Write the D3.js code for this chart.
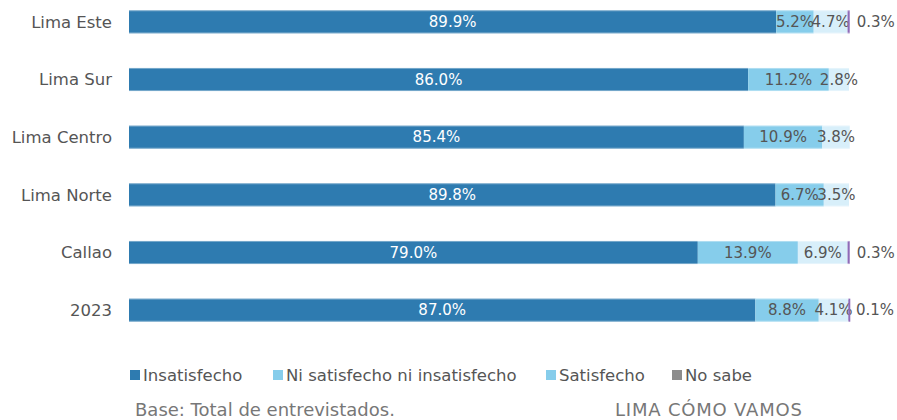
<!DOCTYPE html>
<html>
<head>
<meta charset="utf-8">
<script src="https://cdn.jsdelivr.net/npm/d3@7"></script>
<style>
  body { margin: 0; background: #fff; }
  svg text { font-family: "DejaVu Sans", "Noto Sans", sans-serif; }
</style>
</head>
<body>
<div id="chart"></div>
<script>
var categories = ["Lima Este", "Lima Sur", "Lima Centro", "Lima Norte", "Callao", "2023"];
var series = ["Insatisfecho", "Ni satisfecho ni insatisfecho", "Satisfecho", "No sabe"];
var insatisfecho = [89.9, 86.0, 85.4, 89.8, 79.0, 87.0];
var niSatisfecho = [5.2, 11.2, 10.9, 6.7, 13.9, 8.8];
var satisfecho = [4.7, 2.8, 3.8, 3.5, 6.9, 4.1];
var noSabe = [0.3, 0, 0, 0, 0.3, 0.1];

var barColors = ["#2e7bb0", "#86cdeb", "#d8effa", "#8e6bb8"];
var legendColors = ["#2e7bb0", "#86cdeb", "#86cdeb", "#8c8c8c"];

var width = 897, height = 420;
var margin = {top: 0, left: 129, right: 48};

var rows = categories.map(function(c, i) {
  return {name: c, values: [insatisfecho[i], niSatisfecho[i], satisfecho[i], noSabe[i]]};
});

var svg = d3.select("#chart").append("svg")
  .attr("width", width)
  .attr("height", height);

var x = d3.scaleLinear()
  .domain([0, 100])
  .range([margin.left, width - margin.right]);

var y = d3.scaleBand()
  .domain(categories)
  .range([-7, 339])
  .paddingInner(0.6)
  .paddingOuter(0.3);

// category labels
svg.selectAll("text.cat").data(categories)
  .enter().append("text")
  .attr("class", "cat")
  .attr("x", 112)
  .attr("y", function(d) { return y(d) + y.bandwidth() / 2; })
  .attr("dy", "0.35em")
  .attr("text-anchor", "end")
  .attr("font-size", 16.5)
  .attr("fill", "#555")
  .text(function(d) { return d; });

rows.forEach(function(row) {
  var start = 0;
  var g = svg.append("g");
  row.values.forEach(function(v, k) {
    if (v <= 0) { start += v; return; }
    var x0 = x(start), x1 = x(start + v);
    g.append("rect")
      .attr("x", x0)
      .attr("y", y(row.name))
      .attr("width", Math.max(x1 - x0, 2))
      .attr("height", y.bandwidth())
      .attr("fill", barColors[k]);
    var lx = (x0 + x1) / 2, anchor = "middle";
    if (k === 3) { lx = x1 + 7; anchor = "start"; }
    g.append("text")
      .attr("x", lx)
      .attr("y", y(row.name) + y.bandwidth() / 2)
      .attr("dy", "0.35em")
      .attr("text-anchor", anchor)
      .attr("font-size", 15)
      .attr("fill", k === 0 ? "#fff" : "#555")
      .text(v.toFixed(1) + "%");
    start += v;
  });
  // thin light edges at top and bottom of the bar
  g.append("line")
    .attr("x1", x(0)).attr("x2", x(start))
    .attr("y1", y(row.name) + 0.5).attr("y2", y(row.name) + 0.5)
    .attr("stroke", "#fff").attr("stroke-opacity", 0.35);
  g.append("line")
    .attr("x1", x(0)).attr("x2", x(start))
    .attr("y1", y(row.name) + y.bandwidth() - 0.5).attr("y2", y(row.name) + y.bandwidth() - 0.5)
    .attr("stroke", "#fff").attr("stroke-opacity", 0.35);
});

// legend
var legendX = [130, 273, 546, 672];
var legend = svg.append("g");
series.forEach(function(s, i) {
  legend.append("rect")
    .attr("x", legendX[i])
    .attr("y", 370)
    .attr("width", 10)
    .attr("height", 10)
    .attr("fill", legendColors[i]);
  legend.append("text")
    .attr("x", legendX[i] + 13)
    .attr("y", 375)
    .attr("dy", "0.35em")
    .attr("font-size", 16.5)
    .attr("fill", "#555")
    .text(s);
});

svg.append("text")
  .attr("x", 135).attr("y", 416)
  .attr("font-size", 18).attr("fill", "#777")
  .text("Base: Total de entrevistados.");

svg.append("text")
  .attr("x", 615).attr("y", 416)
  .attr("font-size", 18).attr("fill", "#777")
  .attr("letter-spacing", 0.8)
  .text("LIMA CÓMO VAMOS");
</script>
</body>
</html>
